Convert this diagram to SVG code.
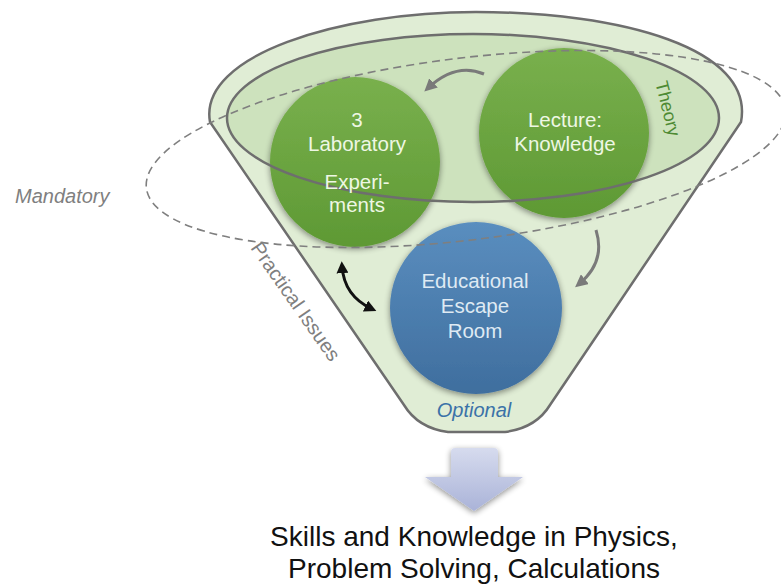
<svg xmlns="http://www.w3.org/2000/svg" width="781" height="588" viewBox="0 0 781 588">
<style>
  .ctext { font-family: "Liberation Sans", Arial, sans-serif; font-size: 20.5px; text-anchor: middle; }
  .green { fill: #eef7e4; }
  .blue { fill: #dfeaf3; }
  .gray { fill: #7f7f7f; font-family: "Liberation Sans", Arial, sans-serif; font-size: 20px; }
  .conn { fill: none; stroke: #7a7a7a; stroke-width: 3; }
  .big { font-family: "Liberation Sans", Arial, sans-serif; font-size: 28px; text-anchor: middle; fill: #111; }
</style>
<defs>
  <linearGradient id="gGreen" x1="0" y1="0" x2="0" y2="1">
    <stop offset="0" stop-color="#79b04d"/>
    <stop offset="1" stop-color="#5e9934"/>
  </linearGradient>
  <linearGradient id="gBlue" x1="0" y1="0" x2="0" y2="1">
    <stop offset="0" stop-color="#5a8ebf"/>
    <stop offset="1" stop-color="#3f6e9e"/>
  </linearGradient>
  <linearGradient id="gArrow" x1="0" y1="0" x2="0" y2="1">
    <stop offset="0" stop-color="#d6dbee"/>
    <stop offset="1" stop-color="#aab3d8"/>
  </linearGradient>
  <filter id="shadow" x="-20%" y="-20%" width="140%" height="140%">
    <feGaussianBlur in="SourceAlpha" stdDeviation="3"/>
    <feOffset dx="0" dy="2" result="b"/>
    <feComponentTransfer><feFuncA type="linear" slope="0.45"/></feComponentTransfer>
    <feMerge><feMergeNode/><feMergeNode in="SourceGraphic"/></feMerge>
  </filter>
  <marker id="headGray" viewBox="0 0 10 10" refX="6" refY="5" markerWidth="4.2" markerHeight="4.2" orient="auto-start-reverse">
    <path d="M0,0 L10,5 L0,10 z" fill="#7a7a7a"/>
  </marker>
  <marker id="headBlack" viewBox="0 0 10 10" refX="6" refY="5" markerWidth="4" markerHeight="4" orient="auto-start-reverse">
    <path d="M0,0 L10,5 L0,10 z" fill="#111"/>
  </marker>
</defs>

<g id="funnel">
  <path d="M 210,122 C 198,55 340,12 476,12 C 620,12 755,48 741,122 L 550,405 Q 536,428 505,432 L 448,432 Q 418,428 404,405 Z" fill="#e0edd5" stroke="#6e6e6e" stroke-width="2.5"/>
</g>
<g id="theory-fill">
  <ellipse cx="473" cy="118" rx="246" ry="84" fill="#cde2bd"/>
</g>

<g id="lab">
  <circle cx="355" cy="162" r="85" fill="url(#gGreen)" filter="url(#shadow)"/>
</g>
<g id="lecture">
  <circle cx="564" cy="133" r="85" fill="url(#gGreen)" filter="url(#shadow)"/>
</g>
<g id="escape">
  <circle cx="476" cy="308" r="86" fill="url(#gBlue)" filter="url(#shadow)"/>
</g>

<g id="theory">
  <ellipse cx="473" cy="118" rx="246" ry="84" fill="none" stroke="#6e6e6e" stroke-width="2.5"/>
  <text class="ctext" x="0" y="0" transform="translate(662,110) rotate(76)" style="font-size:18px; fill:#4e8a33">Theory</text>
</g>

<g id="mandatory">
  <ellipse cx="466" cy="149" rx="322" ry="91" transform="rotate(-7 466 149)" fill="none" stroke="#7f7f7f" stroke-width="1.6" stroke-dasharray="8 5"/>
  <text class="gray" x="15" y="203" style="font-style:italic">Mandatory</text>
</g>

<g id="connectors">
  <path class="conn" d="M 484,74 Q 456,62 428,88" marker-end="url(#headGray)"/>
  <path class="conn" d="M 596,230 Q 606,262 579,284" marker-end="url(#headGray)"/>
  <path d="M 342,266 Q 344,296 372,309" fill="none" stroke="#111" stroke-width="3" marker-start="url(#headBlack)" marker-end="url(#headBlack)"/>
</g>

<g id="lab-text" class="ctext green">
  <text x="357" y="127">3</text>
  <text x="357" y="151">Laboratory</text>
  <text x="357" y="189">Experi-</text>
  <text x="357" y="212">ments</text>
</g>
<g id="lecture-text" class="ctext green">
  <text x="565" y="127">Lecture:</text>
  <text x="565" y="151">Knowledge</text>
</g>
<g id="escape-text" class="ctext blue">
  <text x="475" y="288">Educational</text>
  <text x="475" y="313">Escape</text>
  <text x="475" y="338">Room</text>
</g>

<g id="practical">
  <text class="gray" x="0" y="0" transform="translate(250,248) rotate(55)">Practical Issues</text>
</g>
<g id="optional">
  <text x="474" y="417" style="font-family:'Liberation Sans', Arial, sans-serif; font-size:20px; font-style:italic; text-anchor:middle; fill:#3b72a8">Optional</text>
</g>

<g id="down-arrow">
  <path d="M 455,448 H 494 Q 498,448 498,452 V 477 H 523 L 474,511 L 425,477 H 451 V 452 Q 451,448 455,448 Z" fill="url(#gArrow)" filter="url(#shadow)"/>
</g>

<g id="result">
  <text class="big" x="474" y="546">Skills and Knowledge in Physics,</text>
  <text class="big" x="474" y="578">Problem Solving, Calculations</text>
</g>
</svg>
